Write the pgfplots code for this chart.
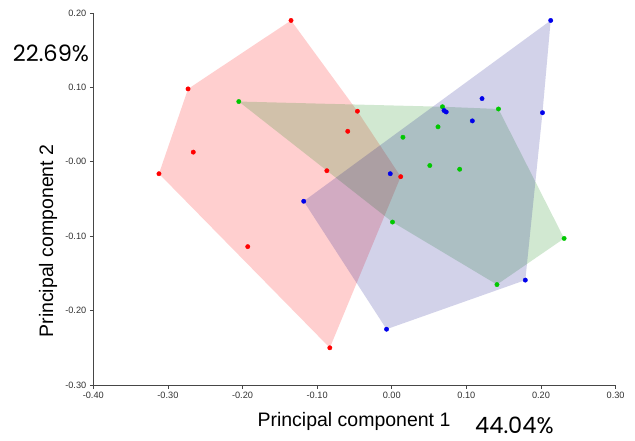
\documentclass[border=0pt]{standalone}
\usepackage{pgfplots}
\pgfplotsset{compat=1.18}
\usepackage{fontspec}
\setmainfont{Liberation Sans}
\newfontfamily\pfont{Poppins}
\definecolor{ptred}{RGB}{255,0,0}
\definecolor{ptgreen}{RGB}{0,200,0}
\definecolor{ptblue}{RGB}{0,0,235}
\definecolor{hred}{RGB}{255,0,0}
\definecolor{hgreen}{RGB}{0,128,0}
\definecolor{hblue}{RGB}{5,5,133}
\definecolor{axcol}{RGB}{70,70,70}
\begin{document}
\begin{tikzpicture}[x=1pt,y=1pt]
\useasboundingbox (0,0) rectangle (635,440);
\begin{axis}[
  at={(93.3pt,55pt)}, anchor=south west,
  scale only axis, width=522.3pt, height=372pt,
  xmin=-0.4, xmax=0.3, ymin=-0.3, ymax=0.2,
  axis x line*=bottom, axis y line*=left,
  axis line style={draw=axcol, line width=0.9pt},
  xtick={-0.4,-0.3,-0.2,-0.1,0,0.1,0.2,0.3},
  xticklabels={-0.40,-0.30,-0.20,-0.10,0.00,0.10,0.20,0.30},
  ytick={-0.3,-0.2,-0.1,0,0.1,0.2},
  yticklabels={-0.30,-0.20,-0.10,-0.00,0.10,0.20},
  tick align=outside, major tick length=3.5pt,
  tick style={draw=axcol, line width=0.8pt},
  ticklabel style={font=\fontsize{9.2}{11}\selectfont, text=black!80},
  xticklabel style={yshift=-0.5pt},
  clip=false,
]
% hulls
\addplot[draw=none, fill=hred, fill opacity=0.19] coordinates {
 (-0.135,0.190) (-0.273,0.098) (-0.312,-0.016) (-0.083,-0.250) (0.012,-0.020) (-0.046,0.068) (-0.135,0.190)};
\addplot[draw=none, fill=hgreen, fill opacity=0.18] coordinates {
 (-0.205,0.081) (0.068,0.074) (0.143,0.071) (0.231,-0.103) (0.141,-0.165) (0.001,-0.081) (-0.205,0.081)};
\addplot[draw=none, fill=hblue, fill opacity=0.18] coordinates {
 (0.213,0.190) (0.202,0.066) (0.179,-0.159) (-0.007,-0.225) (-0.118,-0.053) (0.213,0.190)};
% points
\addplot[only marks, mark=*, mark size=2.2pt, color=ptred] coordinates {
 (-0.135,0.190) (-0.273,0.098) (-0.266,0.013) (-0.312,-0.016) (-0.193,-0.114)
 (-0.083,-0.250) (-0.046,0.068) (-0.059,0.041) (-0.087,-0.012) (0.012,-0.020)};
\addplot[only marks, mark=*, mark size=2.2pt, color=ptgreen] coordinates {
 (-0.205,0.081) (0.068,0.074) (0.143,0.071) (0.062,0.047) (0.015,0.033)
 (0.051,-0.005) (0.091,-0.010) (0.001,-0.081) (0.231,-0.103) (0.141,-0.165)};
\addplot[only marks, mark=*, mark size=2.2pt, color=ptblue] coordinates {
 (0.213,0.190) (0.121,0.085) (0.202,0.066) (0.070,0.069) (0.073,0.067)
 (0.108,0.055) (-0.002,-0.016) (-0.118,-0.053) (-0.007,-0.225) (0.179,-0.159)};
\end{axis}
\node[anchor=base, font=\fontsize{19.5}{22}\selectfont] at (354,14) {Principal component 1};
\node[anchor=base, rotate=90, font=\fontsize{19.5}{22}\selectfont] at (53,199) {Principal component 2};
\node[anchor=base west, inner sep=0pt, font=\pfont\fontsize{22.5}{26}\selectfont] at (12.7,378.3) {22.69\%};
\node[anchor=base west, inner sep=0pt, font=\pfont\fontsize{22.5}{26}\selectfont] at (475,6.5) {44.04\%};
\end{tikzpicture}
\end{document}
